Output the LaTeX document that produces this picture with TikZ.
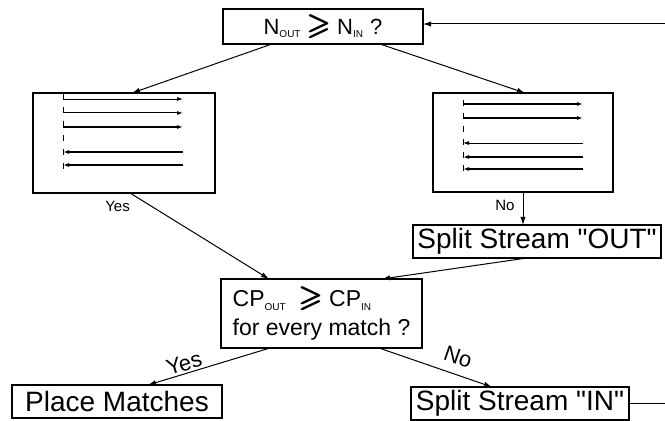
\documentclass[tikz,border=0pt]{standalone}
\usepackage{amsmath}
\usepackage{amssymb}
\usepackage{fontspec}
\setmainfont{Liberation Sans}
\usepackage{tikz}
\usetikzlibrary{arrows.meta}
\usepackage{tkz-berge}
\newcommand{\lowidx}[1]{\textsubscript{\tiny #1}}
\newcommand{\bgeq}{{\fontsize{15}{15}\selectfont\pmb{$\geqslant$}}}

\begin{document}
\begin{tikzpicture}[x=0.5pt,y=-0.5pt]
		\useasboundingbox (0,0) rectangle (665,421);
		\GraphInit[vstyle=Normal]
		\tikzset{VertexStyle/.style = {draw=black,shape=rectangle,line width=0.8pt,inner sep=0pt,minimum height=16.5pt,font=\fontsize{14}{16}\selectfont}}
		{
			\tikzset{VertexStyle/.append style = {minimum width=100pt,minimum height=17.5pt,font=\fontsize{11}{13}\selectfont}}
			\Vertex[x=323,y=26.5,L={N\lowidx{OUT} \bgeq{} N\lowidx{IN} ?}]{Nq}
		}
		{
			\tikzset{VertexStyle/.append style = {minimum width=91pt,minimum height=50pt}}
			\Vertex[x=124,y=143,NoLabel]{Lb}
		}
		{
			\tikzset{VertexStyle/.append style = {minimum width=90pt,minimum height=49.5pt}}
			\Vertex[x=523,y=142.5,NoLabel]{Rb}
		}
		{
			\tikzset{VertexStyle/.append style = {minimum width=124pt}}
			\Vertex[x=537,y=241.5,L={Split Stream \textquotedbl OUT\textquotedbl}]{So}
		}
		{
			\tikzset{VertexStyle/.append style = {minimum width=100.5pt,minimum height=34.5pt,align=left,font=\fontsize{11.5}{14.5}\selectfont}}
			\Vertex[x=321.5,y=313.5,L={CP\lowidx{OUT}\ \ \bgeq{} CP\lowidx{IN}\\for every match ?}]{Cp}
		}
		{
			\tikzset{VertexStyle/.append style = {minimum width=105pt}}
			\Vertex[x=117,y=401.5,L={Place Matches}]{Pm}
		}
		{
			\tikzset{VertexStyle/.append style = {minimum width=109pt}}
			\Vertex[x=520,y=403.5,L={Split Stream \textquotedbl IN\textquotedbl}]{Si}
		}
		\coordinate (Rt) at (665,24);
		\coordinate (Rbot) at (665,403.5);
		%% streams drawn inside the two boxes
		\tikzstyle{StreamArrow}=[-{Latex[length=3pt,width=2pt]}]
		\draw[line width=0.5pt,dash pattern=on 3pt off 4pt] (63,93) -- (63,169);
		\draw[StreamArrow,line width=0.4pt] (63,99) -- (183,99);
		\draw[StreamArrow,line width=0.5pt] (63,113) -- (183,113);
		\draw[StreamArrow,line width=0.9pt] (63,127) -- (183,127);
		\draw[StreamArrow,line width=0.9pt] (183,152) -- (63,152);
		\draw[StreamArrow,line width=0.9pt] (183,165) -- (63,165);
		\draw[line width=0.5pt,dash pattern=on 3pt off 3.5pt] (463,100) -- (463,172);
		\draw[StreamArrow,line width=0.9pt] (463,104) -- (583,104);
		\draw[StreamArrow,line width=0.9pt] (463,118) -- (583,118);
		\draw[StreamArrow,line width=0.4pt] (583,143) -- (463,143);
		\draw[StreamArrow,line width=0.9pt] (583,157) -- (463,157);
		\draw[StreamArrow,line width=0.9pt] (583,169) -- (463,169);
		%% connectors
		\tikzstyle{EdgeStyle}=[-{Latex[length=4pt,width=2.6pt]},line width=0.5pt]
		\tikzstyle{LabelText}=[inner sep=0pt,font=\fontsize{7.5}{9}\selectfont]
		\draw[EdgeStyle] ([xshift=-25.5pt]Nq.south) -- ([xshift=4pt]Lb.north);
		\draw[EdgeStyle] ([xshift=28.5pt]Nq.south) -- ([xshift=1pt]Rb.north);
		\draw[EdgeStyle] ([xshift=3pt]Lb.south) -- node[LabelText,pos=0.16,left=11pt]{Yes} ([xshift=-26.25pt]Cp.north);
		\draw[EdgeStyle] (Rb.south) -- node[LabelText,pos=0.4,left=4pt]{No} (Rb.south |- So.north);
		\draw[EdgeStyle] ([xshift=-5pt]So.south) -- ([xshift=30.25pt]Cp.north);
		\draw[EdgeStyle] ([xshift=-25.75pt]Cp.south) -- node[LabelText,font=\fontsize{11}{13}\selectfont,pos=0.68,sloped,above=1pt]{Yes} ([xshift=15.5pt]Pm.north);
		\draw[EdgeStyle] ([xshift=28.75pt]Cp.south) -- node[LabelText,font=\fontsize{11}{13}\selectfont,pos=0.65,sloped,above=4.5pt]{No} ([xshift=-14pt]Si.north);
		\draw[EdgeStyle] (Rt) -- (Rt -| Nq.east);
		\draw[line width=0.5pt] (Si.east) -- (Rbot);
		%\draw[red] (0,0) rectangle (665,421);
	\end{tikzpicture}
\end{document}
